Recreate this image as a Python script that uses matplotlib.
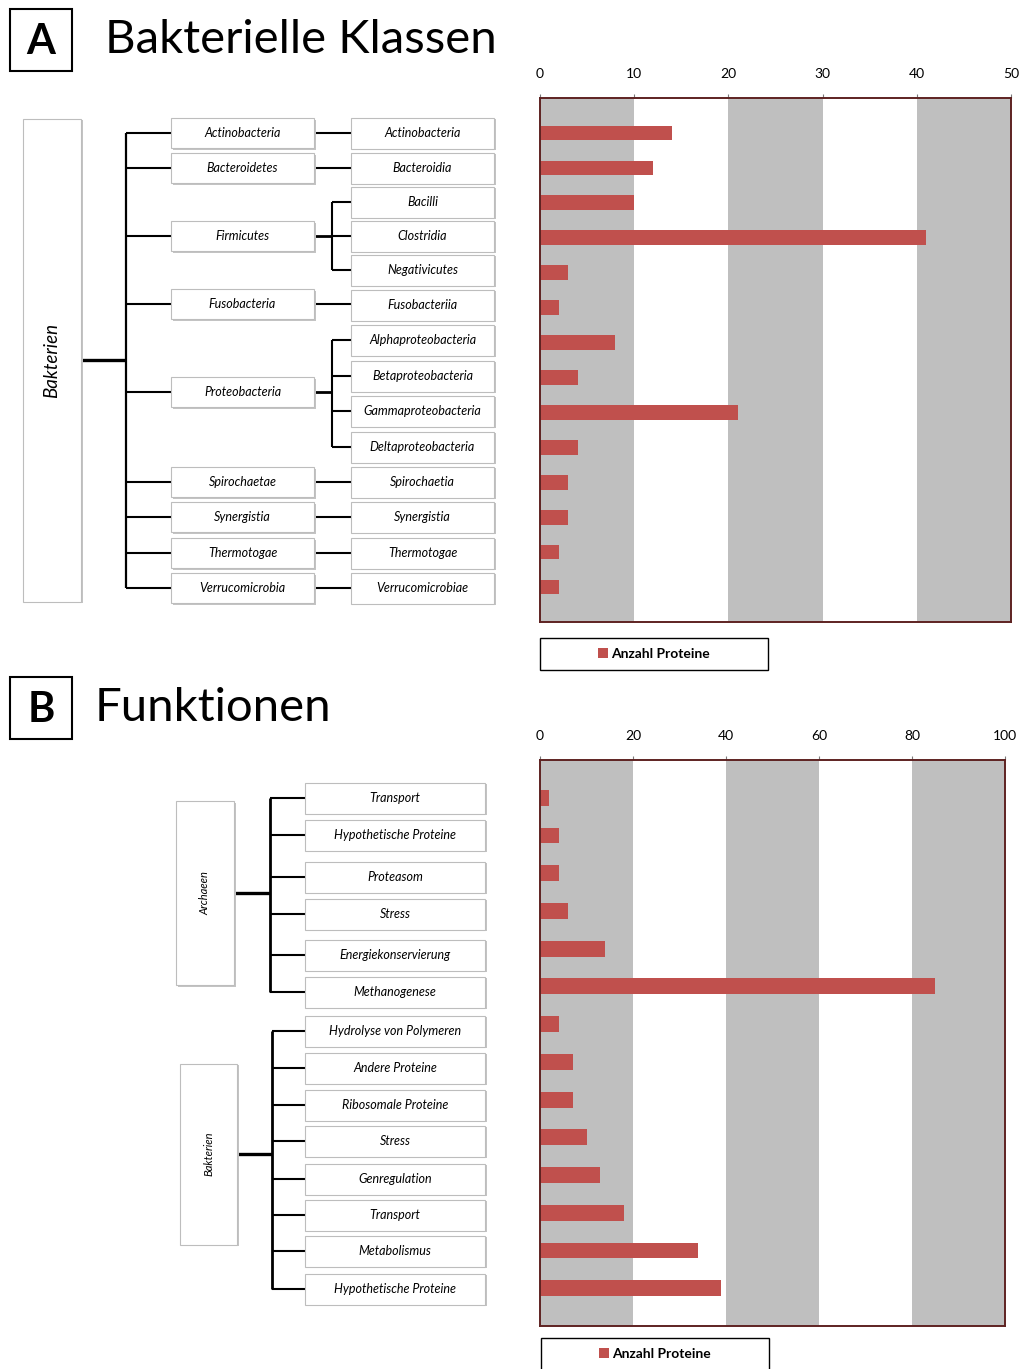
import matplotlib
matplotlib.use("Agg")
import matplotlib.pyplot as plt
from matplotlib.patches import Rectangle

plt.rcParams['font.family'] = ['Lato', 'DejaVu Sans']

# ---------------- data ----------------
klassen = ["Actinobacteria", "Bacteroidia", "Bacilli", "Clostridia", "Negativicutes",
           "Fusobacteriia", "Alphaproteobacteria", "Betaproteobacteria",
           "Gammaproteobacteria", "Deltaproteobacteria", "Spirochaetia",
           "Synergistia", "Thermotogae", "Verrucomicrobiae"]
klassen_anzahl = [14, 12, 10, 41, 3, 2, 8, 4, 21, 4, 3, 3, 2, 2]

staemme = ["Actinobacteria", "Bacteroidetes", "Firmicutes", "Fusobacteria",
           "Proteobacteria", "Spirochaetae", "Synergistia", "Thermotogae",
           "Verrucomicrobia"]
# index range of classes belonging to each phylum
stamm_klassen = [(0, 0), (1, 1), (2, 4), (5, 5), (6, 9), (10, 10), (11, 11), (12, 12), (13, 13)]

funktionen_archaeen = ["Transport", "Hypothetische Proteine", "Proteasom", "Stress",
                       "Energiekonservierung", "Methanogenese"]
funktionen_bakterien = ["Hydrolyse von Polymeren", "Andere Proteine", "Ribosomale Proteine",
                        "Stress", "Genregulation", "Transport", "Metabolismus",
                        "Hypothetische Proteine"]
funktionen_anzahl = [2, 4, 4, 6, 14, 85, 4, 7, 7, 10, 13, 18, 34, 39]

legend_label = "Anzahl Proteine"
bar_color = "#C0504D"
band_color = "#BFBFBF"
frame_color = "#5E2221"

W, H = 1021, 1369
fig = plt.figure(figsize=(W / 100, H / 100), dpi=100)

# overlay in pixel coordinates for the trees and headings
ov = fig.add_axes([0, 0, 1, 1])
ov.set_xlim(0, W)
ov.set_ylim(H, 0)
ov.axis("off")


def box(x0, x1, yc, h, text, size=9, shadow=True, rotate=False, tsize=None):
    y0 = yc - h / 2
    if shadow:
        ov.add_patch(Rectangle((x0 + 1.5, y0 + 1.5), x1 - x0, h, facecolor="#C4C4C4",
                               edgecolor="none", zorder=2))
    ov.add_patch(Rectangle((x0, y0), x1 - x0, h, facecolor="white",
                           edgecolor="#BDBDBD", linewidth=0.8, zorder=3))
    ov.text((x0 + x1) / 2, yc, text, ha="center", va="center", style="italic",
            fontsize=tsize if tsize else size, rotation=90 if rotate else 0,
            color="black", zorder=4)


def line(xs, ys, lw=1.5):
    ov.plot(xs, ys, color="black", linewidth=lw, solid_capstyle="butt", zorder=1)


def heading(letter, title, y0, tx):
    ov.add_patch(Rectangle((10, y0), 62, 62, facecolor="white", edgecolor="black",
                           linewidth=1.5, zorder=3))
    ov.text(41, y0 + 33, letter, ha="center", va="center", fontsize=30,
            fontweight="bold", zorder=4)
    ov.text(tx, y0 + 31, title, ha="left", va="center", fontsize=34, zorder=4)


# ---------------- panel A: tree ----------------
heading("A", "Bakterielle Klassen", 9, 105)

klasse_y = [133, 168, 202, 236, 270, 305, 340, 376, 411, 447, 482, 517, 553, 588]
stamm_y = [133, 168, 236, 304, 392, 482, 517, 553, 588]

box(23, 81, 360, 483, "Bakterien", rotate=True, tsize=13.5)
line([81, 126], [360, 360], lw=2.4)
line([126, 126], [stamm_y[0], stamm_y[-1]], lw=1.6)
for name, y, (a, b) in zip(staemme, stamm_y, stamm_klassen):
    line([126, 171], [y, y])
    box(171, 314, y, 30, name)
    if a == b:
        line([314, 351], [y, y])
    else:
        line([314, 332], [y, y], lw=2.0)
        line([332, 332], [klasse_y[a], klasse_y[b]])
        for k in range(a, b + 1):
            line([332, 351], [klasse_y[k], klasse_y[k]])
for name, y in zip(klassen, klasse_y):
    box(351, 494, y, 31, name)

# ---------------- panel B: tree ----------------
heading("B", "Funktionen", 677, 95)

arch_y = [798, 835, 877, 914, 955, 992]
bakt_y = [1031, 1068, 1105, 1141, 1179, 1215, 1251, 1289]

box(176, 234, 893, 184, "Archaeen", rotate=True, tsize=8)
line([234, 270], [893, 893], lw=2.4)
line([270, 270], [arch_y[0], arch_y[-1]], lw=2.0)
for name, y in zip(funktionen_archaeen, arch_y):
    line([270, 305], [y, y])
    box(305, 485, y, 31, name)

box(180, 237, 1154, 181, "Bakterien", rotate=True, tsize=8)
line([237, 272], [1154, 1154], lw=2.4)
line([272, 272], [bakt_y[0], bakt_y[-1]], lw=2.0)
for name, y in zip(funktionen_bakterien, bakt_y):
    line([272, 305], [y, y])
    box(305, 485, y, 31, name)


# ---------------- bar charts ----------------
def bar_panel(rect, values, xmax, step, legend_box):
    x0, y0, x1, y1 = rect
    ax = fig.add_axes([x0 / W, 1 - y1 / H, (x1 - x0) / W, (y1 - y0) / H])
    for lo in range(0, xmax, 2 * step):
        ax.axvspan(lo, lo + step, color=band_color, linewidth=0, zorder=0)
    bars = ax.barh(range(len(values)), values, height=0.42, color=bar_color,
                   zorder=2, label=legend_label)
    ax.set_xlim(0, xmax)
    ax.set_ylim(len(values), -1)
    ax.set_xticks(range(0, xmax + 1, step))
    ax.set_yticks([])
    ax.xaxis.tick_top()
    ax.tick_params(axis="x", length=3, width=0.8, color="#7a7a7a", pad=10,
                   labelsize=10, labelcolor="black")
    for s in ax.spines.values():
        s.set_color(frame_color)
        s.set_linewidth(1.4)
    ax.set_facecolor("white")

    # legend frame and entry
    lx0, ly0, lx1, ly1 = legend_box
    ov.add_patch(Rectangle((lx0, ly0), lx1 - lx0, ly1 - ly0, facecolor="white",
                           edgecolor="black", linewidth=1.0, zorder=3))
    cx = (lx0 + lx1) / 2 / W
    cy = 1 - (ly0 + 16) / H
    fig.legend(handles=[bars], labels=[legend_label], loc="center",
               bbox_to_anchor=(cx, cy), frameon=False, handlelength=0.7,
               handleheight=0.7, handletextpad=0.25, borderpad=0,
               prop={"weight": "bold", "size": 10})
    return ax


bar_panel((540, 98, 1011, 622), klassen_anzahl, 50, 10, (540, 638, 768, 670))
bar_panel((540, 760, 1005, 1326), funktionen_anzahl, 100, 20, (541, 1338, 769, 1375))

fig.savefig("out.png", dpi=100)
